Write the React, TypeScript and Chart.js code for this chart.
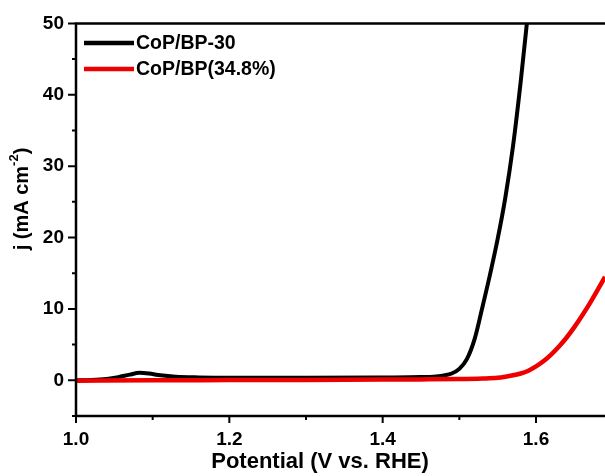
import React, { useEffect, useRef } from "react";
import { Chart, registerables } from "chart.js";

Chart.register(...registerables);

const potentialBlack = [1.0, 1.02, 1.04, 1.055, 1.07, 1.083, 1.095, 1.11, 1.13, 1.16, 1.2, 1.3, 1.4, 1.45, 1.47, 1.48, 1.49, 1.5, 1.51, 1.52, 1.53, 1.54, 1.55, 1.56, 1.57, 1.58, 1.59];
const currentBlack = [0.0, 0.05, 0.2, 0.45, 0.8, 1.05, 0.95, 0.7, 0.5, 0.4, 0.35, 0.35, 0.4, 0.45, 0.55, 0.68, 0.95, 1.6, 3.0, 5.8, 10.2, 14.8, 19.8, 25.6, 32.8, 41.8, 52];

const potentialRed = [1.0, 1.1, 1.2, 1.3, 1.4, 1.45, 1.5, 1.53, 1.55, 1.56, 1.57, 1.58, 1.59, 1.6, 1.61, 1.62, 1.63, 1.64, 1.65, 1.66, 1.67, 1.68, 1.69, 1.7];
const currentRed = [-0.05, 0.0, 0.03, 0.06, 0.1, 0.13, 0.18, 0.25, 0.35, 0.5, 0.7, 0.95, 1.35, 1.95, 2.7, 3.65, 4.75, 6.0, 7.45, 9.05, 10.75, 12.6, 14.5, 16.5];

const seriesNames = ["CoP/BP-30", "CoP/BP(34.8%)"];
const seriesColors = ["#000000", "#ee0000"];

const xMajorTicks = [1.0, 1.2, 1.4, 1.6];
const xMinorTicks = [1.1, 1.3, 1.5];
const yMajorTicks = [0, 10, 20, 30, 40, 50];
const yMinorTicks = [-5, 5, 15, 25, 35, 45];

const xTitle = "Potential (V vs. RHE)";
const yTitleMain = "j (mA cm";
const yTitleSup = "-2";
const yTitleEnd = ")";

const FONT = "'Liberation Sans', Arial, sans-serif";

const isIn = (v: number, arr: number[]) => arr.some((a) => Math.abs(a - v) < 1e-6);

const decorPlugin = {
  id: "decor",
  afterDatasetsDraw(chart: any) {
    const { ctx, chartArea, scales } = chart;
    const xs = scales.x;
    const ys = scales.y;
    const { left, right, top, bottom } = chartArea;
    ctx.save();
    ctx.strokeStyle = "#000";
    ctx.lineWidth = 2.5;
    ctx.lineCap = "butt";
    ctx.beginPath();
    ctx.moveTo(left, top);
    ctx.lineTo(right, top);
    ctx.moveTo(left, top - 1.25);
    ctx.lineTo(left, bottom + 1.25);
    ctx.moveTo(left - 1.25, bottom);
    ctx.lineTo(right, bottom);
    ctx.stroke();
    ctx.lineWidth = 2;
    ctx.beginPath();
    yMajorTicks.forEach((v) => {
      const y = ys.getPixelForValue(v);
      ctx.moveTo(left - 8, y);
      ctx.lineTo(left, y);
    });
    yMinorTicks.forEach((v) => {
      const y = ys.getPixelForValue(v);
      ctx.moveTo(left - 4, y);
      ctx.lineTo(left, y);
    });
    xMajorTicks.forEach((v) => {
      const x = xs.getPixelForValue(v);
      ctx.moveTo(x, bottom);
      ctx.lineTo(x, bottom + 7);
    });
    xMinorTicks.forEach((v) => {
      const x = xs.getPixelForValue(v);
      ctx.moveTo(x, bottom);
      ctx.lineTo(x, bottom + 4);
    });
    ctx.stroke();

    const legendY = [43, 69];
    seriesNames.forEach((name, i) => {
      ctx.strokeStyle = seriesColors[i];
      ctx.lineWidth = 4.5;
      ctx.beginPath();
      ctx.moveTo(84, legendY[i]);
      ctx.lineTo(134, legendY[i]);
      ctx.stroke();
      ctx.fillStyle = "#000";
      ctx.font = `bold 19.5px ${FONT}`;
      ctx.textAlign = "left";
      ctx.textBaseline = "middle";
      ctx.fillText(name, 136, legendY[i] + 1);
    });

    ctx.fillStyle = "#000";
    ctx.font = `bold 22px ${FONT}`;
    ctx.textAlign = "center";
    ctx.textBaseline = "middle";
    ctx.fillText(xTitle, 320, 462);

    ctx.save();
    ctx.translate(22, 199);
    ctx.rotate(-Math.PI / 2);
    const mainFont = `bold 20px ${FONT}`;
    const supFont = `bold 13px ${FONT}`;
    ctx.font = mainFont;
    const w1 = ctx.measureText(yTitleMain).width;
    ctx.font = supFont;
    const w2 = ctx.measureText(yTitleSup).width;
    ctx.font = mainFont;
    const w3 = ctx.measureText(yTitleEnd).width;
    const total = w1 + w2 + w3;
    let cx = -total / 2;
    ctx.textAlign = "left";
    ctx.textBaseline = "middle";
    ctx.font = mainFont;
    ctx.fillText(yTitleMain, cx, 0);
    cx += w1;
    ctx.font = supFont;
    ctx.fillText(yTitleSup, cx, -8);
    cx += w2;
    ctx.font = mainFont;
    ctx.fillText(yTitleEnd, cx, 0);
    ctx.restore();

    ctx.restore();
  },
};

export default function App() {
  const canvasRef = useRef<HTMLCanvasElement | null>(null);

  useEffect(() => {
    const canvas = canvasRef.current;
    if (!canvas) return;
    const chart = new Chart(canvas, {
      type: "line",
      data: {
        datasets: [
          {
            label: seriesNames[0],
            data: potentialBlack.map((x, i) => ({ x, y: currentBlack[i] })),
            borderColor: seriesColors[0],
            borderWidth: 4,
            pointRadius: 0,
            cubicInterpolationMode: "monotone",
            clip: 0,
            order: 2,
          },
          {
            label: seriesNames[1],
            data: potentialRed.map((x, i) => ({ x, y: currentRed[i] })),
            borderColor: seriesColors[1],
            borderWidth: 4.5,
            pointRadius: 0,
            cubicInterpolationMode: "monotone",
            clip: 0,
            order: 1,
          },
        ],
      },
      options: {
        responsive: false,
        animation: false,
        layout: { padding: { top: 21, right: 0, left: 0, bottom: 0 } },
        plugins: {
          legend: { display: false },
          tooltip: { enabled: false },
        },
        scales: {
          x: {
            type: "linear",
            min: 1.0,
            max: 1.69,
            grid: { display: false, drawTicks: false },
            border: { display: false },
            afterBuildTicks: (scale: any) => {
              scale.ticks = [...xMajorTicks, ...xMinorTicks]
                .sort((a, b) => a - b)
                .map((v) => ({ value: v }));
            },
            afterFit: (scale: any) => {
              scale.height = 60;
            },
            ticks: {
              autoSkip: false,
              maxRotation: 0,
              minRotation: 0,
              padding: 12,
              color: "#000",
              font: { family: FONT, size: 19, weight: "bold" },
              callback: (v: any) => (isIn(Number(v), xMajorTicks) ? Number(v).toFixed(1) : ""),
            },
          },
          y: {
            type: "linear",
            min: -5,
            max: 50,
            grid: { display: false, drawTicks: false },
            border: { display: false },
            afterBuildTicks: (scale: any) => {
              scale.ticks = [...yMajorTicks, ...yMinorTicks]
                .sort((a, b) => a - b)
                .map((v) => ({ value: v }));
            },
            afterFit: (scale: any) => {
              scale.width = 76;
            },
            ticks: {
              autoSkip: false,
              padding: 12,
              color: "#000",
              font: { family: FONT, size: 19, weight: "bold" },
              callback: (v: any) => (isIn(Number(v), yMajorTicks) ? String(v) : ""),
            },
          },
        },
      },
      plugins: [decorPlugin],
    } as any);
    return () => chart.destroy();
  }, []);

  return (
    <div style={{ position: "fixed", left: 0, top: 0, width: 605, height: 476, background: "#fff" }}>
      <canvas ref={canvasRef} width={605} height={476} style={{ display: "block" }} />
    </div>
  );
}
